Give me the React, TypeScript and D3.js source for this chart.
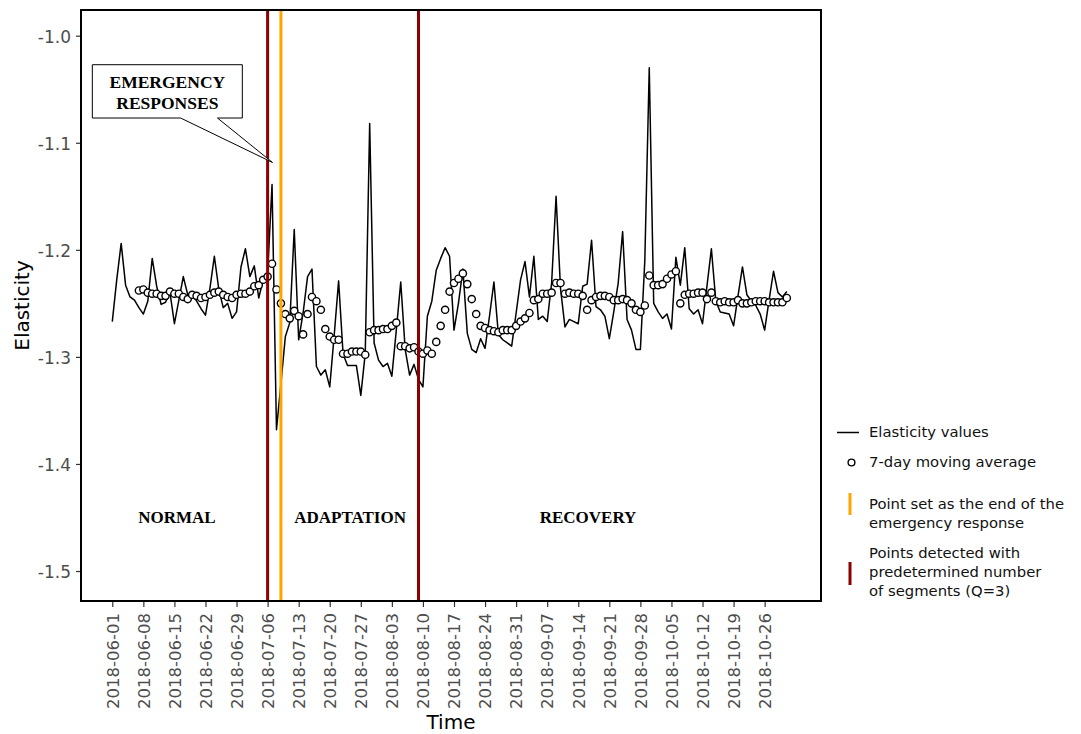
import React, { useRef, useEffect } from 'react';
import * as d3 from 'd3';

// daily elasticity, one value per day starting 2018-06-01
const startDate = '2018-06-01';
const elasticity = [
  -1.267, -1.228, -1.194, -1.233, -1.244, -1.247, -1.254, -1.260, -1.248, -1.208,
  -1.234, -1.251, -1.249, -1.240, -1.269, -1.247, -1.225, -1.242, -1.240, -1.248,
  -1.255, -1.261, -1.236, -1.206, -1.237, -1.254, -1.250, -1.264, -1.258, -1.216,
  -1.199, -1.225, -1.215, -1.245, -1.228, -1.222, -1.139, -1.368, -1.325, -1.281,
  -1.268, -1.181, -1.284, -1.259, -1.225, -1.218, -1.309, -1.317, -1.312, -1.328,
  -1.280, -1.229, -1.297, -1.308, -1.308, -1.308, -1.336, -1.297, -1.082, -1.287,
  -1.303, -1.309, -1.306, -1.318, -1.275, -1.230, -1.293, -1.317, -1.307, -1.321,
  -1.328, -1.262, -1.248, -1.219, -1.208, -1.198, -1.206, -1.275, -1.250, -1.218,
  -1.278, -1.293, -1.296, -1.283, -1.292, -1.262, -1.230, -1.279, -1.284, -1.287,
  -1.290, -1.259, -1.228, -1.211, -1.244, -1.206, -1.265, -1.262, -1.267, -1.231,
  -1.150, -1.236, -1.272, -1.265, -1.267, -1.269, -1.234, -1.232, -1.191, -1.253,
  -1.256, -1.262, -1.283, -1.258, -1.231, -1.183, -1.265, -1.275, -1.293, -1.293,
  -1.210, -1.030, -1.250, -1.258, -1.264, -1.260, -1.274, -1.207, -1.233, -1.198,
  -1.255, -1.260, -1.256, -1.269, -1.234, -1.199, -1.248, -1.258, -1.259, -1.260,
  -1.271, -1.243, -1.216, -1.242, -1.248, -1.252, -1.260, -1.275, -1.247, -1.220,
  -1.240, -1.244, -1.239,
];

// 7-day moving average, first value sits on day index 6
const maStartIndex = 6;
const movingAvg = [
  -1.238, -1.237, -1.240, -1.241,
  -1.241, -1.243, -1.243, -1.239, -1.241, -1.241, -1.244, -1.246, -1.242, -1.243,
  -1.245, -1.244, -1.242, -1.240, -1.239, -1.242, -1.244, -1.245, -1.242, -1.241,
  -1.241, -1.239, -1.234, -1.233, -1.228, -1.225, -1.213, -1.237, -1.250, -1.260,
  -1.264, -1.257, -1.262, -1.279, -1.260, -1.244, -1.248, -1.256, -1.274, -1.281,
  -1.284, -1.284, -1.297, -1.297, -1.295, -1.295, -1.295, -1.298, -1.277, -1.275,
  -1.275, -1.274, -1.274, -1.271, -1.268, -1.290, -1.290, -1.292, -1.291, -1.295,
  -1.297, -1.294, -1.297, -1.286, -1.271, -1.256, -1.239, -1.231, -1.227, -1.222,
  -1.232, -1.246, -1.260, -1.271, -1.273, -1.275, -1.276, -1.277, -1.275, -1.275,
  -1.275, -1.271, -1.267, -1.264, -1.259, -1.247, -1.246, -1.241, -1.241, -1.240,
  -1.231, -1.231, -1.241, -1.240, -1.241, -1.241, -1.243, -1.256, -1.247, -1.244,
  -1.243, -1.243, -1.244, -1.247, -1.247, -1.246, -1.247, -1.250, -1.256, -1.258,
  -1.252, -1.224, -1.233, -1.233, -1.232, -1.227, -1.223, -1.220, -1.250, -1.242,
  -1.241, -1.241, -1.240, -1.240, -1.246, -1.240, -1.248, -1.249, -1.248, -1.249,
  -1.249, -1.247, -1.250, -1.250, -1.249, -1.248, -1.248, -1.248, -1.249, -1.249,
  -1.249, -1.249, -1.245,
];

const tickLabels = [
  '2018-06-01', '2018-06-08', '2018-06-15', '2018-06-22', '2018-06-29', '2018-07-06',
  '2018-07-13', '2018-07-20', '2018-07-27', '2018-08-03', '2018-08-10', '2018-08-17',
  '2018-08-24', '2018-08-31', '2018-09-07', '2018-09-14', '2018-09-21', '2018-09-28',
  '2018-10-05', '2018-10-12', '2018-10-19', '2018-10-26',
];
const yTicks = [-1.0, -1.1, -1.2, -1.3, -1.4, -1.5];

const breakDates = ['2018-07-06', '2018-08-09'];
const emergencyEnd = '2018-07-09';

const phaseLabels = ['NORMAL', 'ADAPTATION', 'RECOVERY'];
const phaseCenters = ['2018-06-15T14:00', '2018-07-24T14:00', '2018-09-16T05:00'];

const W = 1081;
const H = 734;
const panel = { left: 81, right: 821, top: 10, bottom: 601 };
const DAY = 864e5;

const App = () => {
  const svgRef = useRef(null);

  useEffect(() => {
    document.body.style.margin = '0';
    const svg = d3.select(svgRef.current);
    svg.selectAll('*').remove();

    const parse = d3.utcParse('%Y-%m-%d');
    const parseT = d3.utcParse('%Y-%m-%dT%H:%M');
    const t0 = parse(startDate);
    const dayDate = (i) => new Date(+t0 + i * DAY);

    const x = d3.scaleUtc()
      .domain([dayDate(-7.05), dayDate(159.7)])
      .range([panel.left, panel.right]);
    const y = d3.scaleLinear()
      .domain([-1.528, -0.976])
      .range([panel.bottom, panel.top]);

    const series = elasticity.map((v, i) => ({ date: dayDate(i), v }));
    const ma = movingAvg.map((v, i) => ({ date: dayDate(i + maStartIndex), v }));

    svg.append('rect').attr('width', W).attr('height', H).attr('fill', '#fff');

    // x axis
    const xAxis = svg.append('g')
      .attr('transform', `translate(0,${panel.bottom})`)
      .call(d3.axisBottom(x)
        .tickValues(tickLabels.map(parse))
        .tickFormat(d3.utcFormat('%Y-%m-%d'))
        .tickSize(6)
        .tickSizeOuter(0));
    xAxis.select('.domain').remove();
    xAxis.selectAll('line').attr('stroke', '#333').attr('stroke-width', 1.2);
    xAxis.selectAll('text')
      .attr('font-family', 'DejaVu Sans')
      .attr('font-size', 16.5)
      .attr('fill', '#4d4d4d')
      .attr('transform', 'rotate(-90)')
      .attr('text-anchor', 'end')
      .attr('x', -12)
      .attr('y', 0)
      .attr('dy', '0.35em');

    // y axis
    const yAxis = svg.append('g')
      .attr('transform', `translate(${panel.left},0)`)
      .call(d3.axisLeft(y)
        .tickValues(yTicks)
        .tickFormat((d) => d.toFixed(1))
        .tickSize(5)
        .tickSizeOuter(0));
    yAxis.select('.domain').remove();
    yAxis.selectAll('line').attr('stroke', '#333').attr('stroke-width', 1.2);
    yAxis.selectAll('text')
      .attr('font-family', 'DejaVu Sans')
      .attr('font-size', 17)
      .attr('fill', '#4d4d4d')
      .attr('x', -10)
      .attr('dy', '0.4em');

    // axis titles
    svg.append('text')
      .attr('x', (panel.left + panel.right) / 2)
      .attr('y', 729)
      .attr('text-anchor', 'middle')
      .attr('font-family', 'DejaVu Sans')
      .attr('font-size', 20)
      .text('Time');
    svg.append('text')
      .attr('transform', `translate(29,${(panel.top + panel.bottom) / 2}) rotate(-90)`)
      .attr('text-anchor', 'middle')
      .attr('font-family', 'DejaVu Sans')
      .attr('font-size', 20)
      .text('Elasticity');

    const g = svg.append('g');

    // elasticity line
    const line = d3.line()
      .x((d) => x(d.date))
      .y((d) => y(d.v));
    g.append('path')
      .datum(series)
      .attr('fill', 'none')
      .attr('stroke', '#000')
      .attr('stroke-width', 1.5)
      .attr('stroke-linejoin', 'round')
      .attr('d', line);

    // moving average circles
    g.selectAll('circle.ma')
      .data(ma)
      .enter()
      .append('circle')
      .attr('class', 'ma')
      .attr('cx', (d) => x(d.date))
      .attr('cy', (d) => y(d.v))
      .attr('r', 3.6)
      .attr('fill', '#fff')
      .attr('stroke', '#000')
      .attr('stroke-width', 1.4);

    // vertical markers
    g.selectAll('line.brk')
      .data(breakDates)
      .enter()
      .append('line')
      .attr('x1', (d) => x(parse(d)))
      .attr('x2', (d) => x(parse(d)))
      .attr('y1', panel.top)
      .attr('y2', panel.bottom)
      .attr('stroke', '#8b0000')
      .attr('stroke-width', 3);
    g.append('line')
      .attr('x1', x(parse(emergencyEnd)))
      .attr('x2', x(parse(emergencyEnd)))
      .attr('y1', panel.top)
      .attr('y2', panel.bottom)
      .attr('stroke', '#ffa500')
      .attr('stroke-width', 3);

    // phase labels
    g.selectAll('text.phase')
      .data(phaseLabels)
      .enter()
      .append('text')
      .attr('x', (d, i) => x(parseT(phaseCenters[i])))
      .attr('y', y(-1.4495))
      .attr('dy', '0.35em')
      .attr('text-anchor', 'middle')
      .attr('font-family', 'Liberation Serif')
      .attr('font-weight', 'bold')
      .attr('font-size', 17)
      .text((d) => d);

    // callout box
    const bx0 = x(dayDate(-4.5));
    const bx1 = x(dayDate(29.3));
    const by0 = y(-1.0271);
    const by1 = y(-1.0769);
    const apex = [x(dayDate(36.1)), y(-1.1184)];
    const callout = d3.path();
    callout.moveTo(bx0, by0);
    callout.lineTo(bx1, by0);
    callout.lineTo(bx1, by1);
    callout.lineTo(x(dayDate(23.7)), by1);
    callout.lineTo(apex[0], apex[1]);
    callout.lineTo(x(dayDate(15.4)), by1);
    callout.lineTo(bx0, by1);
    callout.closePath();
    g.append('path')
      .attr('d', callout.toString())
      .attr('fill', '#fff')
      .attr('stroke', '#000')
      .attr('stroke-width', 1);
    ['EMERGENCY', 'RESPONSES'].forEach((t, i) => {
      g.append('text')
        .attr('x', (bx0 + bx1) / 2)
        .attr('y', by0 + 17 + i * 21)
        .attr('dy', '0.35em')
        .attr('text-anchor', 'middle')
        .attr('font-family', 'Liberation Serif')
        .attr('font-weight', 'bold')
        .attr('font-size', 17.5)
        .text(t);
    });

    // panel border
    svg.append('rect')
      .attr('x', panel.left)
      .attr('y', panel.top)
      .attr('width', panel.right - panel.left)
      .attr('height', panel.bottom - panel.top)
      .attr('fill', 'none')
      .attr('stroke', '#000')
      .attr('stroke-width', 2);

    // legend
    const lg = svg.append('g')
      .attr('font-family', 'DejaVu Sans')
      .attr('font-size', 14.8)
      .attr('fill', '#111');
    const textX = 869;
    lg.append('line')
      .attr('x1', 837).attr('x2', 859)
      .attr('y1', 432.5).attr('y2', 432.5)
      .attr('stroke', '#000').attr('stroke-width', 1.5);
    lg.append('circle')
      .attr('cx', 851.5).attr('cy', 462.5).attr('r', 3.4)
      .attr('fill', '#fff').attr('stroke', '#000').attr('stroke-width', 1.4);
    lg.append('rect')
      .attr('x', 848.5).attr('y', 493).attr('width', 3).attr('height', 22)
      .attr('fill', '#ffa500');
    lg.append('rect')
      .attr('x', 848.5).attr('y', 562).attr('width', 3).attr('height', 23)
      .attr('fill', '#8b0000');
    const legendLines = [
      ['Elasticity values', 432],
      ['7-day moving average', 462],
      ['Point set as the end of the', 504],
      ['emergency response', 523],
      ['Points detected with', 553],
      ['predetermined number', 572],
      ['of segments (Q=3)', 591],
    ];
    lg.selectAll('text')
      .data(legendLines)
      .enter()
      .append('text')
      .attr('x', textX)
      .attr('y', (d) => d[1])
      .attr('dy', '0.35em')
      .text((d) => d[0]);
  }, []);

  return <svg ref={svgRef} width={W} height={H} style={{ display: 'block' }}></svg>;
};

export default App;
